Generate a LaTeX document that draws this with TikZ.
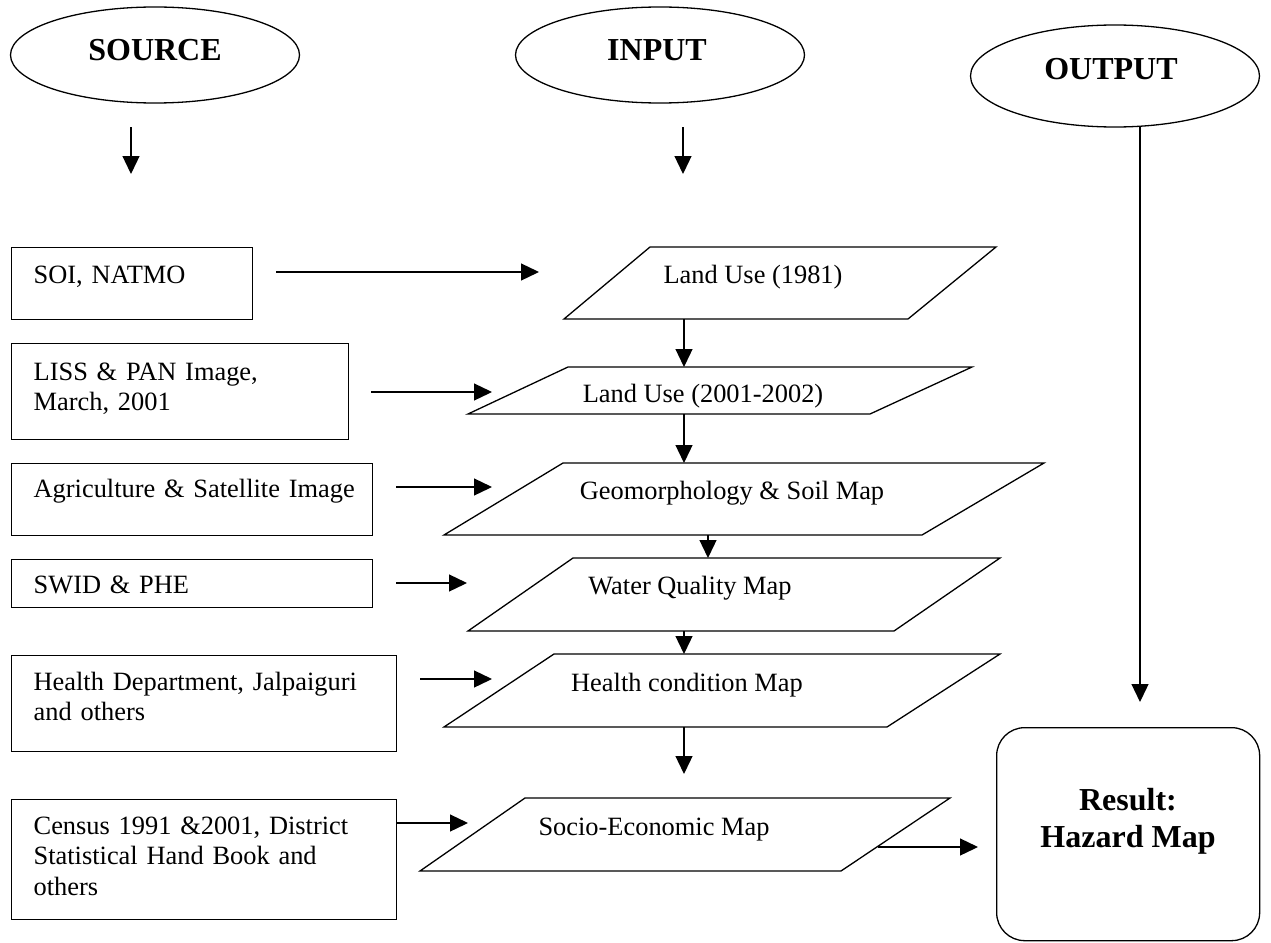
\documentclass[tikz,border=0pt]{standalone}
\usepackage{fontspec}
\setmainfont{Liberation Serif}
\usetikzlibrary{arrows.meta,calc,shapes.geometric}
\newcommand\bodyfnt{\fontsize{26.4}{30.5}\selectfont}
\newcommand\headfnt{\fontsize{32}{38}\selectfont\bfseries}
\begin{document}
\begin{tikzpicture}[x=1pt,y=-1pt,line width=1.3pt,
  arr/.style={-{Triangle[length=18pt,width=17pt]},line width=1.3pt},
  ell/.style={draw,ellipse,inner sep=0pt},
  head/.style={inner sep=0pt,font=\headfnt},
  srcbox/.style={draw,rectangle,anchor=north west,inner sep=0pt},
  srctxt/.style={inner sep=0pt,anchor=base west,font=\bodyfnt,align=left,text width=380pt},
  para/.style={draw,line join=miter},
  ptxt/.style={inner sep=0pt,anchor=base,font=\bodyfnt}]
\useasboundingbox (0,0) rectangle (1271,942);

% header ellipses
\node[ell,minimum width=289pt,minimum height=96pt] (source) at (155,55) {};
\node[head,anchor=base] (sourcet) at (155,60) {SOURCE};
\node[ell,minimum width=289pt,minimum height=96pt] (input) at (660,55) {};
\node[head,anchor=base] (inputt) at (657,60) {INPUT};
\node[ell,minimum width=289pt,minimum height=102pt] (output) at (1115,76) {};
\node[head,anchor=base] (outputt) at (1111,80) {OUTPUT};

% source boxes
\node[srcbox,minimum width=241pt,minimum height=72pt] (soi) at (11,247) {};
\node[srctxt] (soit) at (33,283) {SOI, NATMO};
\node[srcbox,minimum width=337pt,minimum height=96pt] (liss) at (11,343) {};
\node[srctxt] (lisst) at (33,380) {LISS \& PAN Image,\\March, 2001};
\node[srcbox,minimum width=361pt,minimum height=72pt] (agri) at (11,463) {};
\node[srctxt] (agrit) at (33,497) {Agriculture \& Satellite Image};
\node[srcbox,minimum width=361pt,minimum height=48pt] (swid) at (11,559) {};
\node[srctxt] (swidt) at (33,593) {SWID \& PHE};
\node[srcbox,minimum width=385pt,minimum height=96pt] (hdep) at (11,655) {};
\node[srctxt] (hdept) at (33,690) {Health Department, Jalpaiguri\\and others};
\node[srcbox,minimum width=385pt,minimum height=120pt] (cens) at (11,799) {};
\node[srctxt] (censt) at (33,834) {Census 1991 \&2001, District\\Statistical Hand Book and\\others};

% input parallelograms
\draw[para] (650,247) coordinate (lu1tl) -- (996,247) -- (908,319) -- (564,319) -- cycle;
\node[ptxt] (lu1) at (753,283) {Land Use (1981)};
\draw[para] (568,367) coordinate (lu2tl) -- (972,367) -- (870,414) -- (468,414) -- cycle;
\node[ptxt] (lu2) at (703,402) {Land Use (2001-2002)};
\draw[para] (563,463) coordinate (geotl) -- (1044,463) -- (922,535) -- (444,535) -- cycle;
\node[ptxt] (geo) at (732,499) {Geomorphology \& Soil Map};
\draw[para] (573,558) coordinate (wattl) -- (1000,558) -- (894,631) -- (468,631) -- cycle;
\node[ptxt] (wat) at (690,594) {Water Quality Map};
\draw[para] (554,654) coordinate (hctl) -- (1000,654) -- (887,727) -- (444,727) -- cycle;
\node[ptxt] (hc) at (687,691) {Health condition Map};
\draw[para] (525,798) coordinate (soctl) -- (950,798) -- (841,871) -- (420,871) -- cycle;
\node[ptxt] (soc) at (654,835) {Socio-Economic Map};

% result
\node[draw,rounded corners=28pt,anchor=north west,minimum width=263pt,minimum height=213pt,inner sep=0pt] (result) at (996,727) {};
\node[head,anchor=base] (res1) at (1128,810) {Result:};
\node[head,anchor=base] (res2) at (1128,847) {Hazard Map};

% connector end points
\coordinate (sa1) at (131,127); \coordinate (sa2) at (131,174);
\coordinate (ia1) at (683,127); \coordinate (ia2) at (683,174);
\coordinate (oa1) at (1140,127); \coordinate (oa2) at (1140,702);
\coordinate (h1a) at (276,272); \coordinate (h1b) at (539,272);
\coordinate (h2a) at (371,392); \coordinate (h2b) at (492,392);
\coordinate (h3a) at (396,487); \coordinate (h3b) at (492,487);
\coordinate (h4a) at (396,583); \coordinate (h4b) at (467,583);
\coordinate (h5a) at (420,679); \coordinate (h5b) at (492,679);
\coordinate (h6a) at (396,823); \coordinate (h6b) at (468,823);
\coordinate (h7a) at (878,847); \coordinate (h7b) at (978,847);
\coordinate (v1a) at (684,319); \coordinate (v1b) at (684,367);
\coordinate (v2a) at (684,414); \coordinate (v2b) at (684,463);
\coordinate (v3a) at (708,535); \coordinate (v3b) at (708,558);
\coordinate (v4a) at (684,631); \coordinate (v4b) at (684,654);
\coordinate (v5a) at (684,727); \coordinate (v5b) at (684,774);

\draw[arr] (sa1) -- (sa2);
\draw[arr] (ia1) -- (ia2);
\draw[arr] (oa1) -- (oa2);
\draw[arr] (h1a) -- (h1b);
\draw[arr] (h2a) -- (h2b);
\draw[arr] (h3a) -- (h3b);
\draw[arr] (h4a) -- (h4b);
\draw[arr] (h5a) -- (h5b);
\draw[arr] (h6a) -- (h6b);
\draw[arr] (h7a) -- (h7b);
\draw[arr] (v1a) -- (v1b);
\draw[arr] (v2a) -- (v2b);
\draw[arr] (v3a) -- (v3b);
\draw[arr] (v4a) -- (v4b);
\draw[arr] (v5a) -- (v5b);
\end{tikzpicture}
\end{document}
